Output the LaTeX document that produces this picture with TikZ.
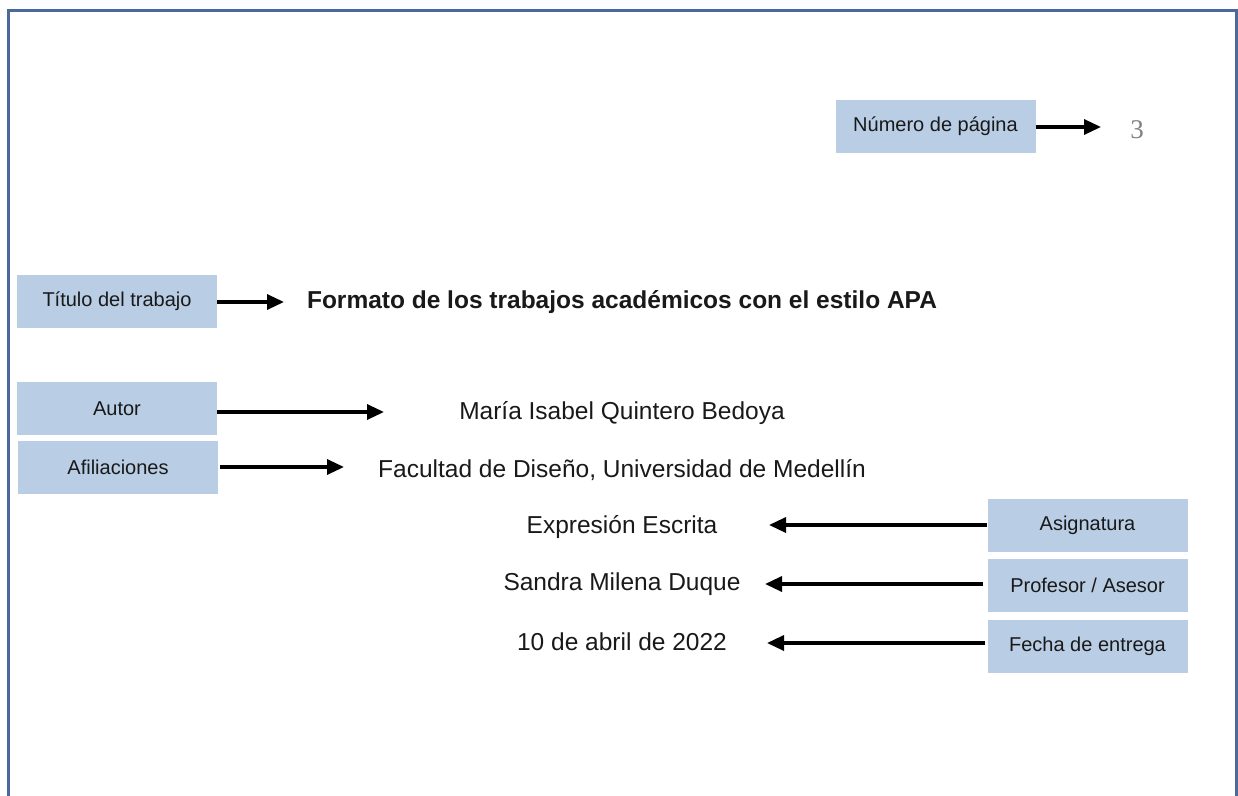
\documentclass[tikz,border=0pt]{standalone}
\usepackage{fontspec}
\setmainfont{Liberation Sans}
\newfontfamily\serifnum{Liberation Serif}
\usetikzlibrary{arrows.meta}
\definecolor{boxblue}{HTML}{B9CDE5}
\definecolor{frameblue}{HTML}{4A6A9C}
\definecolor{numgray}{HTML}{808080}
\tikzset{
  lbl/.style={fill=boxblue, minimum width=200pt, minimum height=53pt, inner sep=0pt,
    font=\fontsize{20}{24}\selectfont, text=black!90},
  maintext/.style={inner sep=0pt, font=\fontsize{24.5}{29}\selectfont, text=black!90},
  arr/.style={line width=3.3pt, -{Triangle[length=17pt,width=15pt]}}
}
\begin{document}
\begin{tikzpicture}[x=1pt,y=-1pt]
\useasboundingbox (0,0) rectangle (1238,795);
\draw[frameblue, line width=2.6pt] (8.5,800) -- (8.5,10.5) -- (1236.5,10.5) -- (1236.5,800);

% labels
\node[lbl] (pag) at (935.5,126) {Número de página};
\node[lbl] (tit) at (117,301) {Título del trabajo};
\node[lbl] (aut) at (117,408.5) {Autor};
\node[lbl] (afi) at (118,467.5) {Afiliaciones};
\node[lbl] (asi) at (1087.5,525) {Asignatura};
\node[lbl] (pro) at (1087.5,585.5) {Profesor / Asesor};
\node[lbl] (fec) at (1087.5,646.5) {Fecha de entrega};

% texts
\node[inner sep=0pt, font=\serifnum\fontsize{27}{30}\selectfont, text=numgray] (num) at (1137,130) {3};
\node[maintext, font=\bfseries\fontsize{24.5}{29}\selectfont] (ttext) at (622,302) {Formato de los trabajos académicos con el estilo APA};
\node[maintext] (atext) at (622,413) {María Isabel Quintero Bedoya};
\node[maintext] (ftext) at (622,470) {Facultad de Diseño, Universidad de Medellín};
\node[maintext] (etext) at (622,527) {Expresión Escrita};
\node[maintext] (stext) at (622,584) {Sandra Milena Duque};
\node[maintext] (dtext) at (622,642) {10 de abril de 2022};

% arrow ends
\coordinate (pagend) at (1101,127);
\coordinate (titend) at (284,302);
\coordinate (autend) at (384,412);
\coordinate (afiend) at (344,467);
\coordinate (asiend) at (769,525);
\coordinate (proend) at (765,584);
\coordinate (fecend) at (767,643);

\draw[arr] (pag.east |- pagend) -- (pagend);
\draw[arr] (tit.east |- titend) -- (titend);
\draw[arr] (aut.east |- autend) -- (autend);
\draw[arr] ([xshift=2pt]afi.east |- afiend) -- (afiend);
\draw[arr] (asi.west |- asiend) -- (asiend);
\draw[arr] ([xshift=-4pt]pro.west |- proend) -- (proend);
\draw[arr] ([xshift=-2pt]fec.west |- fecend) -- (fecend);
\end{tikzpicture}
\end{document}
